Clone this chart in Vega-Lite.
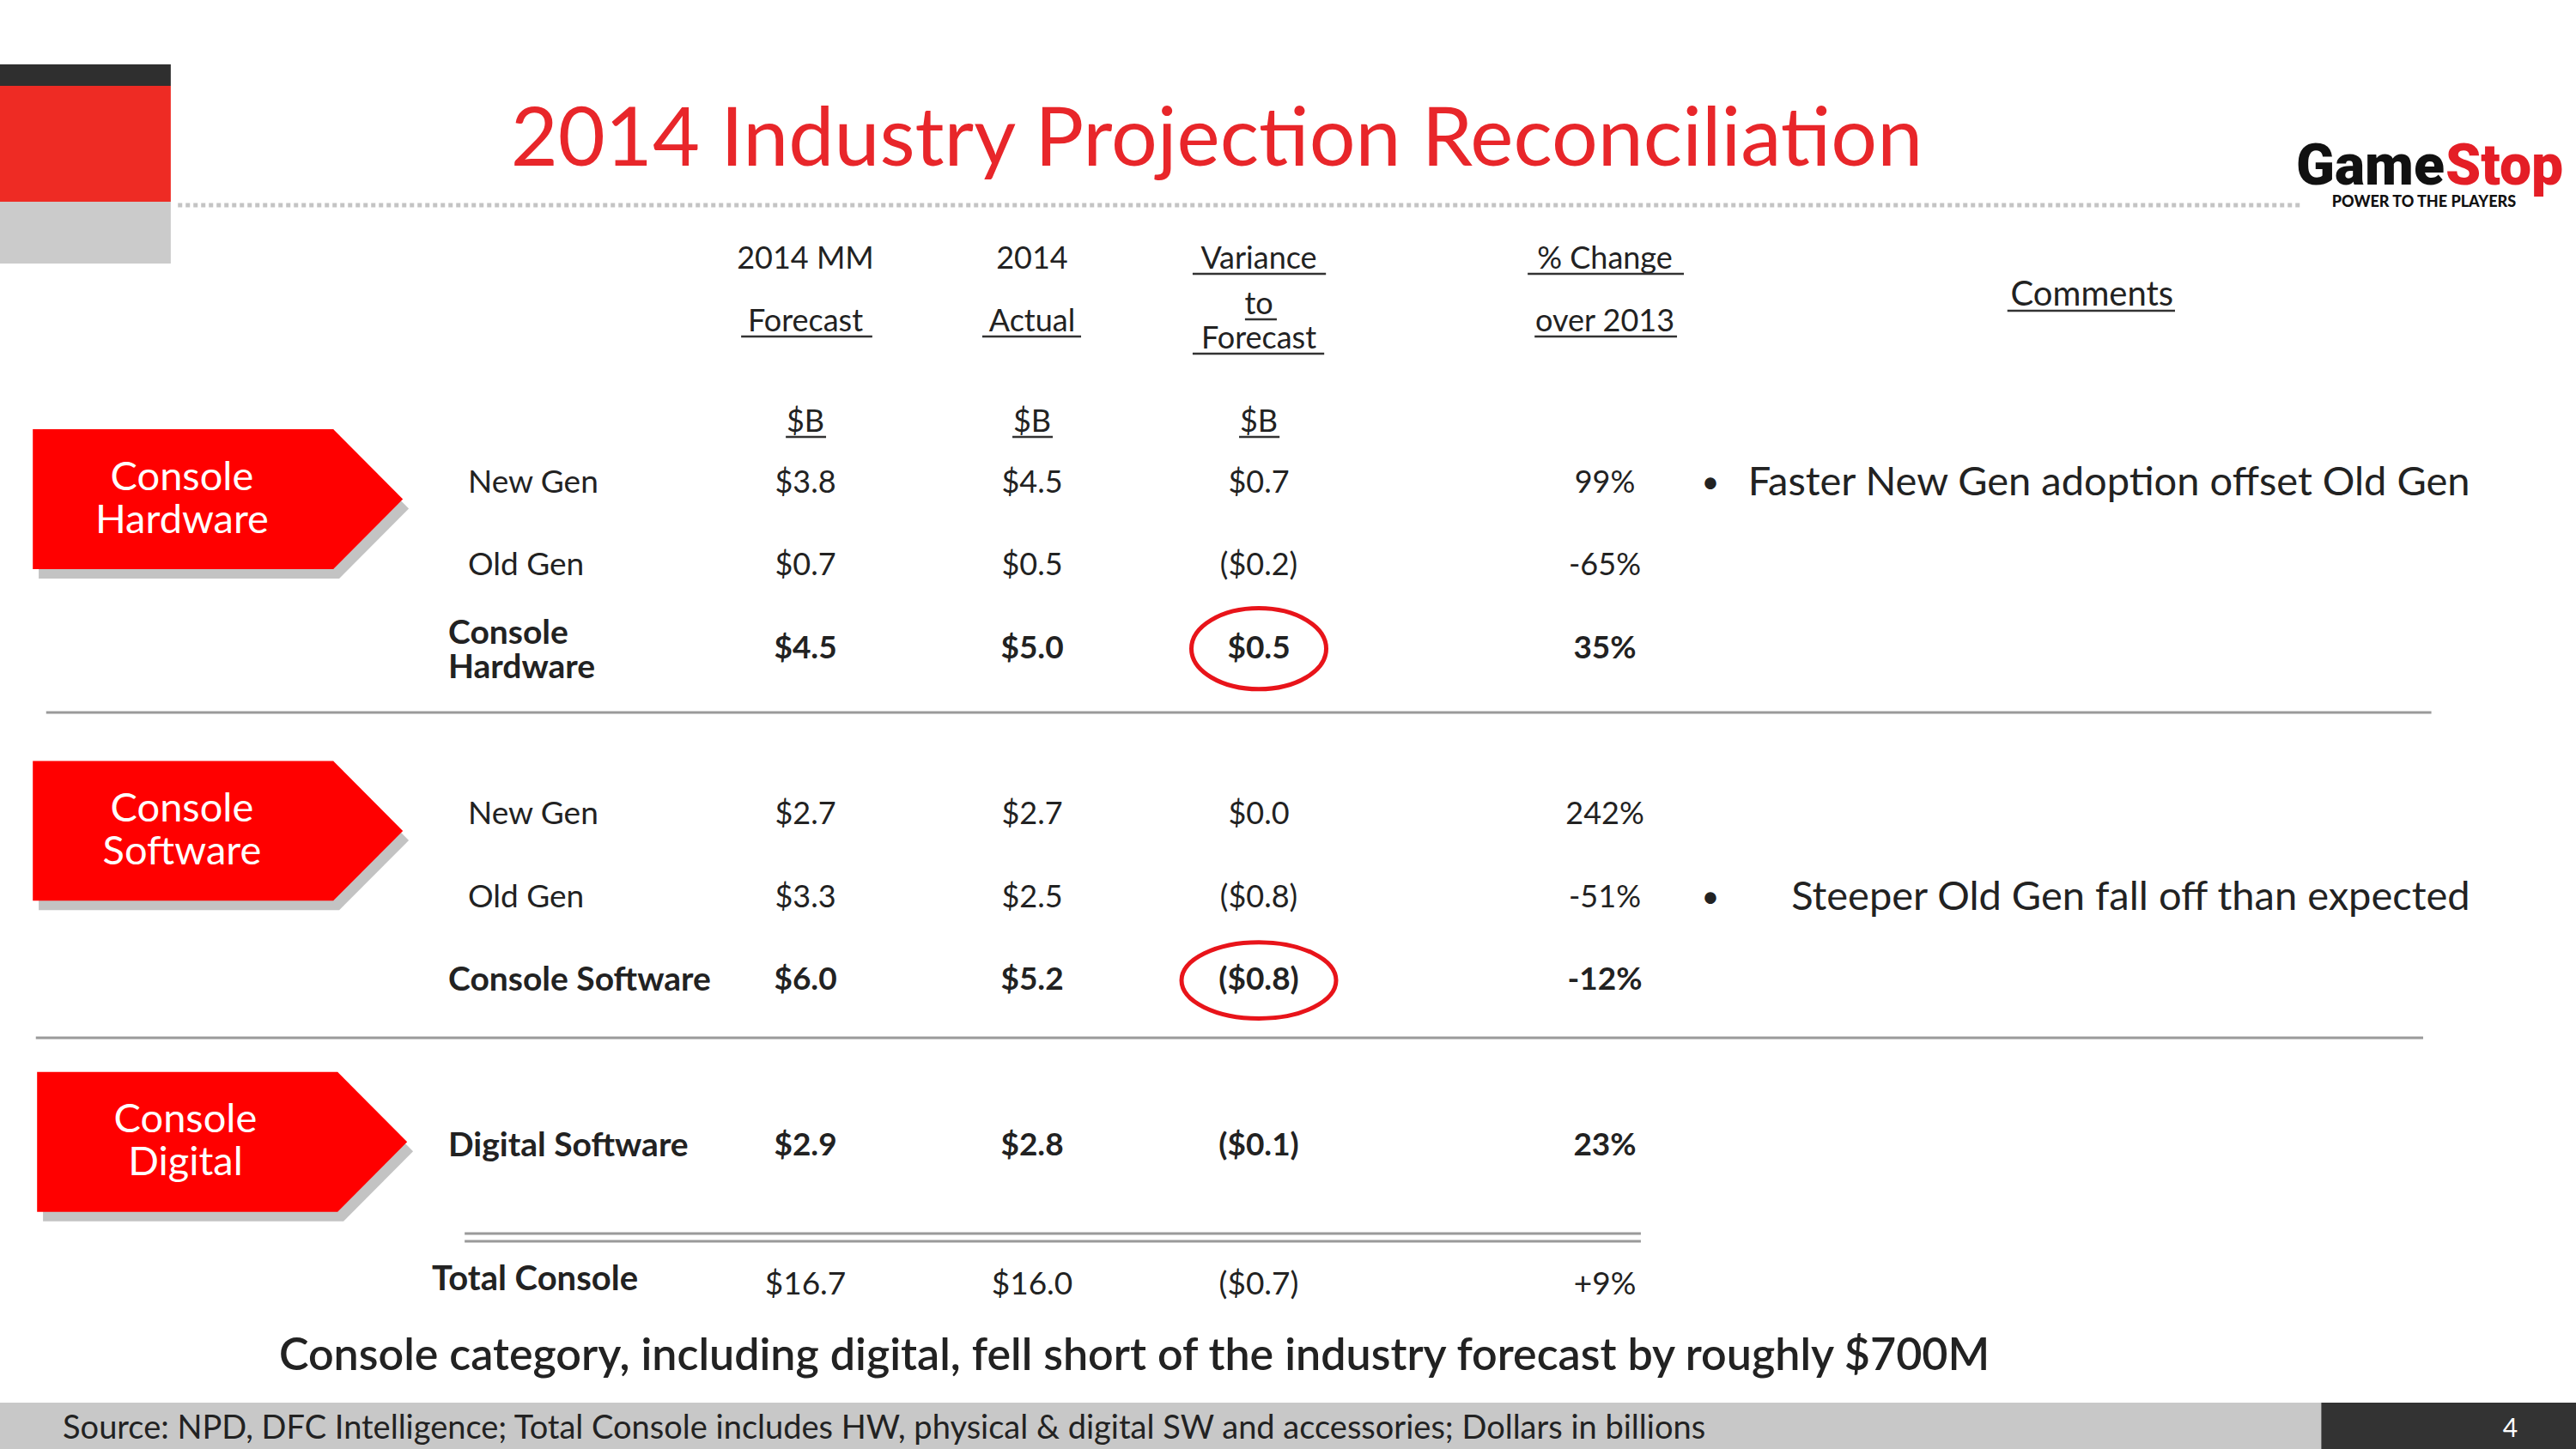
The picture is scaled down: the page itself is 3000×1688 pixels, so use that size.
{
  "$schema": "https://vega.github.io/schema/vega-lite/v6.json",
  "width": 3000,
  "height": 1688,
  "autosize": {"type": "fit", "contains": "padding"},
  "padding": 0,
  "background": "#ffffff",
  "config": {"view": {"stroke": null}, "axis": {"disable": true}, "text": {"font": "Lato", "color": "#222222"}},
  "datasets": {
    "columns": [
      {"column": "forecast", "col": 1, "top": "2014 MM", "bottom": "Forecast", "unit": "$B"},
      {"column": "actual", "col": 2, "top": "2014", "bottom": "Actual", "unit": "$B"},
      {"column": "variance", "col": 3, "top": "Variance", "bottom": "to\nForecast", "unit": "$B"},
      {"column": "change", "col": 4, "top": "% Change", "bottom": "over 2013", "unit": ""}
    ],
    "sections": [
      {"section": "Console Hardware", "text": "Console\nHardware", "row": 0},
      {"section": "Console Software", "text": "Console\nSoftware", "row": 4},
      {"section": "Console Digital", "text": "Console\nDigital", "row": 8}
    ],
    "table": [
      {"section": "Console Hardware", "row": 0, "label": "New Gen", "forecast": "$3.8", "actual": "$4.5", "variance": "$0.7", "change": "99%", "total": false, "comment": "Faster New Gen adoption offset Old Gen"},
      {"section": "Console Hardware", "row": 1, "label": "Old Gen", "forecast": "$0.7", "actual": "$0.5", "variance": "($0.2)", "change": "-65%", "total": false},
      {"section": "Console Hardware", "row": 2, "label": "Console\nHardware", "forecast": "$4.5", "actual": "$5.0", "variance": "$0.5", "change": "35%", "total": true, "highlight": true},
      {"section": "Console Software", "row": 4, "label": "New Gen", "forecast": "$2.7", "actual": "$2.7", "variance": "$0.0", "change": "242%", "total": false},
      {"section": "Console Software", "row": 5, "label": "Old Gen", "forecast": "$3.3", "actual": "$2.5", "variance": "($0.8)", "change": "-51%", "total": false, "comment": "Steeper Old Gen fall off than expected"},
      {"section": "Console Software", "row": 6, "label": "Console Software", "forecast": "$6.0", "actual": "$5.2", "variance": "($0.8)", "change": "-12%", "total": true, "highlight": true},
      {"section": "Console Digital", "row": 8, "label": "Digital Software", "forecast": "$2.9", "actual": "$2.8", "variance": "($0.1)", "change": "23%", "total": true}
    ],
    "grand": [
      {"row": 10, "label": "Total Console", "forecast": "$16.7", "actual": "$16.0", "variance": "($0.7)", "change": "+9%"}
    ]
  },
  "layer": [
    {"data": {"values": [{}]}, "mark": {"type": "rect", "color": "#2f2f2f"},
     "encoding": {"x": {"datum": -1, "type": "quantitative", "scale": {"domain": [-1,0,1,2,3,4,5,6], "range": [0,522,938,1202,1466,1869,2043,3000], "nice": false, "zero": false}}, "x2": {"datum": -0.619},
                  "y": {"datum": -5.047, "type": "quantitative", "scale": {"domain": [-5.823,8,10,12], "range": [0,1335.3,1495,1688.2], "nice": false, "zero": false}}, "y2": {"datum": -4.788}}},
    {"data": {"values": [{}]}, "mark": {"type": "rect", "color": "#ee2b24"},
     "encoding": {"x": {"datum": -1, "type": "quantitative", "scale": {"domain": [-1,0,1,2,3,4,5,6], "range": [0,522,938,1202,1466,1869,2043,3000], "nice": false, "zero": false}}, "x2": {"datum": -0.619},
                  "y": {"datum": -4.788, "type": "quantitative", "scale": {"domain": [-5.823,8,10,12], "range": [0,1335.3,1495,1688.2], "nice": false, "zero": false}}, "y2": {"datum": -3.39}}},
    {"data": {"values": [{}]}, "mark": {"type": "rect", "color": "#cbcbcb"},
     "encoding": {"x": {"datum": -1, "type": "quantitative", "scale": {"domain": [-1,0,1,2,3,4,5,6], "range": [0,522,938,1202,1466,1869,2043,3000], "nice": false, "zero": false}}, "x2": {"datum": -0.619},
                  "y": {"datum": -3.39, "type": "quantitative", "scale": {"domain": [-5.823,8,10,12], "range": [0,1335.3,1495,1688.2], "nice": false, "zero": false}}, "y2": {"datum": -2.645}}},
    {"data": {"values": [{}]}, "mark": {"type": "text", "text": "2014 Industry Projection Reconciliation", "fontSize": 95, "color": "#e8262a", "align": "center", "baseline": "alphabetic"},
     "encoding": {"x": {"datum": 2.814, "type": "quantitative", "scale": {"domain": [-1,0,1,2,3,4,5,6], "range": [0,522,938,1202,1466,1869,2043,3000], "nice": false, "zero": false}},
                  "y": {"datum": -3.825, "type": "quantitative", "scale": {"domain": [-5.823,8,10,12], "range": [0,1335.3,1495,1688.2], "nice": false, "zero": false}}}},
    {"data": {"values": [{}]}, "mark": {"type": "rule", "color": "#c4c4c4", "strokeWidth": 5, "strokeDash": [5, 4]},
     "encoding": {"x": {"datum": -0.603, "type": "quantitative", "scale": {"domain": [-1,0,1,2,3,4,5,6], "range": [0,522,938,1202,1466,1869,2043,3000], "nice": false, "zero": false}}, "x2": {"datum": 5.665},
                  "y": {"datum": -3.349, "type": "quantitative", "scale": {"domain": [-5.823,8,10,12], "range": [0,1335.3,1495,1688.2], "nice": false, "zero": false}}}},
    {"data": {"values": [{}]}, "mark": {"type": "text", "text": "Game", "font": "Roboto", "fontWeight": 900, "fontSize": 66, "color": "#111111", "align": "right", "baseline": "alphabetic"},
     "encoding": {"x": {"datum": 5.84, "type": "quantitative", "scale": {"domain": [-1,0,1,2,3,4,5,6], "range": [0,522,938,1202,1466,1869,2043,3000], "nice": false, "zero": false}},
                  "y": {"datum": -3.597, "type": "quantitative", "scale": {"domain": [-5.823,8,10,12], "range": [0,1335.3,1495,1688.2], "nice": false, "zero": false}}}},
    {"data": {"values": [{}]}, "mark": {"type": "text", "text": "Stop", "font": "Roboto", "fontWeight": 900, "fontSize": 66, "color": "#e41e26", "align": "left", "baseline": "alphabetic", "dx": 1},
     "encoding": {"x": {"datum": 5.84, "type": "quantitative", "scale": {"domain": [-1,0,1,2,3,4,5,6], "range": [0,522,938,1202,1466,1869,2043,3000], "nice": false, "zero": false}},
                  "y": {"datum": -3.597, "type": "quantitative", "scale": {"domain": [-5.823,8,10,12], "range": [0,1335.3,1495,1688.2], "nice": false, "zero": false}}}},
    {"data": {"values": [{}]}, "mark": {"type": "text", "text": "POWER TO THE PLAYERS", "font": "Lato", "fontWeight": 900, "fontSize": 18, "color": "#111111", "align": "center", "baseline": "middle"},
     "encoding": {"x": {"datum": 5.815, "type": "quantitative", "scale": {"domain": [-1,0,1,2,3,4,5,6], "range": [0,522,938,1202,1466,1869,2043,3000], "nice": false, "zero": false}},
                  "y": {"datum": -3.38, "type": "quantitative", "scale": {"domain": [-5.823,8,10,12], "range": [0,1335.3,1495,1688.2], "nice": false, "zero": false}}}},

    {"data": {"name": "columns"}, "mark": {"type": "text", "fontSize": 36, "align": "center", "baseline": "middle"},
     "encoding": {"x": {"field": "col", "type": "quantitative", "scale": {"domain": [-1,0,1,2,3,4,5,6], "range": [0,522,938,1202,1466,1869,2043,3000], "nice": false, "zero": false}},
                  "y": {"datum": -2.697, "type": "quantitative", "scale": {"domain": [-5.823,8,10,12], "range": [0,1335.3,1495,1688.2], "nice": false, "zero": false}},
                  "text": {"field": "top"}}},
    {"data": {"name": "columns"}, "transform": [{"filter": "datum.col != 3"}], "mark": {"type": "text", "fontSize": 36, "align": "center", "baseline": "middle"},
     "encoding": {"x": {"field": "col", "type": "quantitative", "scale": {"domain": [-1,0,1,2,3,4,5,6], "range": [0,522,938,1202,1466,1869,2043,3000], "nice": false, "zero": false}},
                  "y": {"datum": -1.941, "type": "quantitative", "scale": {"domain": [-5.823,8,10,12], "range": [0,1335.3,1495,1688.2], "nice": false, "zero": false}},
                  "text": {"field": "bottom"}}},
    {"data": {"name": "columns"}, "transform": [{"filter": "datum.col == 3"}], "mark": {"type": "text", "fontSize": 36, "align": "center", "baseline": "middle", "lineBreak": "\n", "lineHeight": 40, "dy": -20},
     "encoding": {"x": {"field": "col", "type": "quantitative", "scale": {"domain": [-1,0,1,2,3,4,5,6], "range": [0,522,938,1202,1466,1869,2043,3000], "nice": false, "zero": false}},
                  "y": {"datum": -1.941, "type": "quantitative", "scale": {"domain": [-5.823,8,10,12], "range": [0,1335.3,1495,1688.2], "nice": false, "zero": false}},
                  "text": {"field": "bottom"}}},
    {"data": {"name": "columns"}, "mark": {"type": "text", "fontSize": 36, "align": "center", "baseline": "middle"},
     "encoding": {"x": {"field": "col", "type": "quantitative", "scale": {"domain": [-1,0,1,2,3,4,5,6], "range": [0,522,938,1202,1466,1869,2043,3000], "nice": false, "zero": false}},
                  "y": {"datum": -0.73, "type": "quantitative", "scale": {"domain": [-5.823,8,10,12], "range": [0,1335.3,1495,1688.2], "nice": false, "zero": false}},
                  "text": {"field": "unit"}}},
    {"data": {"values": [{}]}, "mark": {"type": "text", "text": "Comments", "fontSize": 40, "align": "center", "baseline": "middle"},
     "encoding": {"x": {"datum": 5.411, "type": "quantitative", "scale": {"domain": [-1,0,1,2,3,4,5,6], "range": [0,522,938,1202,1466,1869,2043,3000], "nice": false, "zero": false}},
                  "y": {"datum": -2.262, "type": "quantitative", "scale": {"domain": [-5.823,8,10,12], "range": [0,1335.3,1495,1688.2], "nice": false, "zero": false}}}},

    {"data": {"values": [{}]}, "mark": {"type": "rule", "color": "#333333", "strokeWidth": 2.5},
     "encoding": {"x": {"datum": 0.82, "type": "quantitative", "scale": {"domain": [-1,0,1,2,3,4,5,6], "range": [0,522,938,1202,1466,1869,2043,3000], "nice": false, "zero": false}}, "x2": {"datum": 1.295},
                  "y": {"datum": -1.765, "type": "quantitative", "scale": {"domain": [-5.823,8,10,12], "range": [0,1335.3,1495,1688.2], "nice": false, "zero": false}}}},
    {"data": {"values": [{}]}, "mark": {"type": "rule", "color": "#333333", "strokeWidth": 2.5},
     "encoding": {"x": {"datum": 1.78, "type": "quantitative", "scale": {"domain": [-1,0,1,2,3,4,5,6], "range": [0,522,938,1202,1466,1869,2043,3000], "nice": false, "zero": false}}, "x2": {"datum": 2.216},
                  "y": {"datum": -1.765, "type": "quantitative", "scale": {"domain": [-5.823,8,10,12], "range": [0,1335.3,1495,1688.2], "nice": false, "zero": false}}}},
    {"data": {"values": [{}]}, "mark": {"type": "rule", "color": "#333333", "strokeWidth": 2.5},
     "encoding": {"x": {"datum": 2.708, "type": "quantitative", "scale": {"domain": [-1,0,1,2,3,4,5,6], "range": [0,522,938,1202,1466,1869,2043,3000], "nice": false, "zero": false}}, "x2": {"datum": 3.194},
                  "y": {"datum": -2.521, "type": "quantitative", "scale": {"domain": [-5.823,8,10,12], "range": [0,1335.3,1495,1688.2], "nice": false, "zero": false}}}},
    {"data": {"values": [{}]}, "mark": {"type": "rule", "color": "#333333", "strokeWidth": 2.5},
     "encoding": {"x": {"datum": 2.939, "type": "quantitative", "scale": {"domain": [-1,0,1,2,3,4,5,6], "range": [0,522,938,1202,1466,1869,2043,3000], "nice": false, "zero": false}}, "x2": {"datum": 3.052},
                  "y": {"datum": -1.972, "type": "quantitative", "scale": {"domain": [-5.823,8,10,12], "range": [0,1335.3,1495,1688.2], "nice": false, "zero": false}}}},
    {"data": {"values": [{}]}, "mark": {"type": "rule", "color": "#333333", "strokeWidth": 2.5},
     "encoding": {"x": {"datum": 2.708, "type": "quantitative", "scale": {"domain": [-1,0,1,2,3,4,5,6], "range": [0,522,938,1202,1466,1869,2043,3000], "nice": false, "zero": false}}, "x2": {"datum": 3.189},
                  "y": {"datum": -1.558, "type": "quantitative", "scale": {"domain": [-5.823,8,10,12], "range": [0,1335.3,1495,1688.2], "nice": false, "zero": false}}}},
    {"data": {"values": [{}]}, "mark": {"type": "rule", "color": "#333333", "strokeWidth": 2.5},
     "encoding": {"x": {"datum": 3.777, "type": "quantitative", "scale": {"domain": [-1,0,1,2,3,4,5,6], "range": [0,522,938,1202,1466,1869,2043,3000], "nice": false, "zero": false}}, "x2": {"datum": 4.529},
                  "y": {"datum": -2.521, "type": "quantitative", "scale": {"domain": [-5.823,8,10,12], "range": [0,1335.3,1495,1688.2], "nice": false, "zero": false}}}},
    {"data": {"values": [{}]}, "mark": {"type": "rule", "color": "#333333", "strokeWidth": 2.5},
     "encoding": {"x": {"datum": 3.797, "type": "quantitative", "scale": {"domain": [-1,0,1,2,3,4,5,6], "range": [0,522,938,1202,1466,1869,2043,3000], "nice": false, "zero": false}}, "x2": {"datum": 4.483},
                  "y": {"datum": -1.765, "type": "quantitative", "scale": {"domain": [-5.823,8,10,12], "range": [0,1335.3,1495,1688.2], "nice": false, "zero": false}}}},
    {"data": {"values": [{}]}, "mark": {"type": "rule", "color": "#333333", "strokeWidth": 2.5},
     "encoding": {"x": {"datum": 5.308, "type": "quantitative", "scale": {"domain": [-1,0,1,2,3,4,5,6], "range": [0,522,938,1202,1466,1869,2043,3000], "nice": false, "zero": false}}, "x2": {"datum": 5.512},
                  "y": {"datum": -2.076, "type": "quantitative", "scale": {"domain": [-5.823,8,10,12], "range": [0,1335.3,1495,1688.2], "nice": false, "zero": false}}}},
    {"data": {"values": [{}]}, "mark": {"type": "rule", "color": "#333333", "strokeWidth": 2.5},
     "encoding": {"x": {"datum": 0.945, "type": "quantitative", "scale": {"domain": [-1,0,1,2,3,4,5,6], "range": [0,522,938,1202,1466,1869,2043,3000], "nice": false, "zero": false}}, "x2": {"datum": 1.091},
                  "y": {"datum": -0.554, "type": "quantitative", "scale": {"domain": [-5.823,8,10,12], "range": [0,1335.3,1495,1688.2], "nice": false, "zero": false}}}},
    {"data": {"values": [{}]}, "mark": {"type": "rule", "color": "#333333", "strokeWidth": 2.5},
     "encoding": {"x": {"datum": 1.913, "type": "quantitative", "scale": {"domain": [-1,0,1,2,3,4,5,6], "range": [0,522,938,1202,1466,1869,2043,3000], "nice": false, "zero": false}}, "x2": {"datum": 2.091},
                  "y": {"datum": -0.554, "type": "quantitative", "scale": {"domain": [-5.823,8,10,12], "range": [0,1335.3,1495,1688.2], "nice": false, "zero": false}}}},
    {"data": {"values": [{}]}, "mark": {"type": "rule", "color": "#333333", "strokeWidth": 2.5},
     "encoding": {"x": {"datum": 2.913, "type": "quantitative", "scale": {"domain": [-1,0,1,2,3,4,5,6], "range": [0,522,938,1202,1466,1869,2043,3000], "nice": false, "zero": false}}, "x2": {"datum": 3.06},
                  "y": {"datum": -0.554, "type": "quantitative", "scale": {"domain": [-5.823,8,10,12], "range": [0,1335.3,1495,1688.2], "nice": false, "zero": false}}}},

    {"data": {"name": "sections"}, "transform": [{"filter": "datum.row != 8"}], "mark": {"type": "point", "shape": "M-0.968,-0.327L0.656,-0.327L1.032,0.051L0.656,0.429L-0.968,0.429Z", "size": 185761, "filled": true, "color": "#7a7a7a", "opacity": 0.45, "strokeWidth": 0, "yOffset": 19},
     "encoding": {"x": {"datum": -0.514, "type": "quantitative", "scale": {"domain": [-1,0,1,2,3,4,5,6], "range": [0,522,938,1202,1466,1869,2043,3000], "nice": false, "zero": false}},
                  "y": {"field": "row", "type": "quantitative", "scale": {"domain": [-5.823,8,10,12], "range": [0,1335.3,1495,1688.2], "nice": false, "zero": false}}}},
    {"data": {"name": "sections"}, "transform": [{"filter": "datum.row != 8"}], "mark": {"type": "point", "shape": "M-1,-0.378L0.624,-0.378L1,0L0.624,0.378L-1,0.378Z", "size": 185761, "filled": true, "color": "#ff0000", "opacity": 1, "strokeWidth": 0, "yOffset": 19},
     "encoding": {"x": {"datum": -0.514, "type": "quantitative", "scale": {"domain": [-1,0,1,2,3,4,5,6], "range": [0,522,938,1202,1466,1869,2043,3000], "nice": false, "zero": false}},
                  "y": {"field": "row", "type": "quantitative", "scale": {"domain": [-5.823,8,10,12], "range": [0,1335.3,1495,1688.2], "nice": false, "zero": false}}}},
    {"data": {"name": "sections"}, "transform": [{"filter": "datum.row != 8"}], "mark": {"type": "text", "fontSize": 47, "color": "#ffffff", "align": "center", "baseline": "middle", "lineBreak": "\n", "lineHeight": 50, "yOffset": 19, "dy": -25},
     "encoding": {"x": {"datum": -0.594, "type": "quantitative", "scale": {"domain": [-1,0,1,2,3,4,5,6], "range": [0,522,938,1202,1466,1869,2043,3000], "nice": false, "zero": false}},
                  "y": {"field": "row", "type": "quantitative", "scale": {"domain": [-5.823,8,10,12], "range": [0,1335.3,1495,1688.2], "nice": false, "zero": false}},
                  "text": {"field": "text"}}},
    {"data": {"name": "sections"}, "transform": [{"filter": "datum.row == 8"}], "mark": {"type": "point", "shape": "M-0.968,-0.327L0.656,-0.327L1.032,0.051L0.656,0.429L-0.968,0.429Z", "size": 185761, "filled": true, "color": "#7a7a7a", "opacity": 0.45, "strokeWidth": 0, "yOffset": -5, "xOffset": 5},
     "encoding": {"x": {"datum": -0.514, "type": "quantitative", "scale": {"domain": [-1,0,1,2,3,4,5,6], "range": [0,522,938,1202,1466,1869,2043,3000], "nice": false, "zero": false}},
                  "y": {"field": "row", "type": "quantitative", "scale": {"domain": [-5.823,8,10,12], "range": [0,1335.3,1495,1688.2], "nice": false, "zero": false}}}},
    {"data": {"name": "sections"}, "transform": [{"filter": "datum.row == 8"}], "mark": {"type": "point", "shape": "M-1,-0.378L0.624,-0.378L1,0L0.624,0.378L-1,0.378Z", "size": 185761, "filled": true, "color": "#ff0000", "opacity": 1, "strokeWidth": 0, "yOffset": -5, "xOffset": 5},
     "encoding": {"x": {"datum": -0.514, "type": "quantitative", "scale": {"domain": [-1,0,1,2,3,4,5,6], "range": [0,522,938,1202,1466,1869,2043,3000], "nice": false, "zero": false}},
                  "y": {"field": "row", "type": "quantitative", "scale": {"domain": [-5.823,8,10,12], "range": [0,1335.3,1495,1688.2], "nice": false, "zero": false}}}},
    {"data": {"name": "sections"}, "transform": [{"filter": "datum.row == 8"}], "mark": {"type": "text", "fontSize": 47, "color": "#ffffff", "align": "center", "baseline": "middle", "lineBreak": "\n", "lineHeight": 50, "yOffset": -5, "xOffset": 4, "dy": -25},
     "encoding": {"x": {"datum": -0.594, "type": "quantitative", "scale": {"domain": [-1,0,1,2,3,4,5,6], "range": [0,522,938,1202,1466,1869,2043,3000], "nice": false, "zero": false}},
                  "y": {"field": "row", "type": "quantitative", "scale": {"domain": [-5.823,8,10,12], "range": [0,1335.3,1495,1688.2], "nice": false, "zero": false}},
                  "text": {"field": "text"}}},

    {"data": {"name": "table"}, "transform": [{"filter": "!datum.total"}], "mark": {"type": "text", "fontSize": 37, "align": "left", "baseline": "middle", "dx": 23},
     "encoding": {"x": {"datum": 0, "type": "quantitative", "scale": {"domain": [-1,0,1,2,3,4,5,6], "range": [0,522,938,1202,1466,1869,2043,3000], "nice": false, "zero": false}},
                  "y": {"field": "row", "type": "quantitative", "scale": {"domain": [-5.823,8,10,12], "range": [0,1335.3,1495,1688.2], "nice": false, "zero": false}},
                  "text": {"field": "label"}}},
    {"data": {"name": "table"}, "transform": [{"filter": "datum.total && datum.row != 2"}], "mark": {"type": "text", "fontSize": 39, "fontWeight": "bold", "align": "left", "baseline": "middle"},
     "encoding": {"x": {"datum": 0, "type": "quantitative", "scale": {"domain": [-1,0,1,2,3,4,5,6], "range": [0,522,938,1202,1466,1869,2043,3000], "nice": false, "zero": false}},
                  "y": {"field": "row", "type": "quantitative", "scale": {"domain": [-5.823,8,10,12], "range": [0,1335.3,1495,1688.2], "nice": false, "zero": false}},
                  "text": {"field": "label"}}},
    {"data": {"name": "table"}, "transform": [{"filter": "datum.row == 2"}], "mark": {"type": "text", "fontSize": 39, "fontWeight": "bold", "align": "left", "baseline": "middle", "lineBreak": "\n", "lineHeight": 40, "dy": -18},
     "encoding": {"x": {"datum": 0, "type": "quantitative", "scale": {"domain": [-1,0,1,2,3,4,5,6], "range": [0,522,938,1202,1466,1869,2043,3000], "nice": false, "zero": false}},
                  "y": {"field": "row", "type": "quantitative", "scale": {"domain": [-5.823,8,10,12], "range": [0,1335.3,1495,1688.2], "nice": false, "zero": false}},
                  "text": {"field": "label"}}},
    {"data": {"name": "table"}, "transform": [{"filter": "!datum.total"}, {"fold": ["forecast", "actual", "variance", "change"], "as": ["column", "value"]}, {"lookup": "column", "from": {"data": {"name": "columns"}, "key": "column", "fields": ["col"]}}],
     "mark": {"type": "text", "fontSize": 36, "align": "center", "baseline": "middle"},
     "encoding": {"x": {"field": "col", "type": "quantitative", "scale": {"domain": [-1,0,1,2,3,4,5,6], "range": [0,522,938,1202,1466,1869,2043,3000], "nice": false, "zero": false}},
                  "y": {"field": "row", "type": "quantitative", "scale": {"domain": [-5.823,8,10,12], "range": [0,1335.3,1495,1688.2], "nice": false, "zero": false}},
                  "text": {"field": "value"}}},
    {"data": {"name": "table"}, "transform": [{"filter": "datum.total"}, {"fold": ["forecast", "actual", "variance", "change"], "as": ["column", "value"]}, {"lookup": "column", "from": {"data": {"name": "columns"}, "key": "column", "fields": ["col"]}}],
     "mark": {"type": "text", "fontSize": 37, "fontWeight": "bold", "align": "center", "baseline": "middle"},
     "encoding": {"x": {"field": "col", "type": "quantitative", "scale": {"domain": [-1,0,1,2,3,4,5,6], "range": [0,522,938,1202,1466,1869,2043,3000], "nice": false, "zero": false}},
                  "y": {"field": "row", "type": "quantitative", "scale": {"domain": [-5.823,8,10,12], "range": [0,1335.3,1495,1688.2], "nice": false, "zero": false}},
                  "text": {"field": "value"}}},
    {"data": {"name": "table"}, "transform": [{"filter": "datum.comment"}], "mark": {"type": "text", "text": "•", "fontSize": 36, "align": "center", "baseline": "middle"},
     "encoding": {"x": {"datum": 4.707, "type": "quantitative", "scale": {"domain": [-1,0,1,2,3,4,5,6], "range": [0,522,938,1202,1466,1869,2043,3000], "nice": false, "zero": false}},
                  "y": {"field": "row", "type": "quantitative", "scale": {"domain": [-5.823,8,10,12], "range": [0,1335.3,1495,1688.2], "nice": false, "zero": false}}}},
    {"data": {"name": "table"}, "transform": [{"filter": "datum.comment"}], "mark": {"type": "text", "fontSize": 47, "align": "right", "baseline": "middle"},
     "encoding": {"x": {"datum": 5.871, "type": "quantitative", "scale": {"domain": [-1,0,1,2,3,4,5,6], "range": [0,522,938,1202,1466,1869,2043,3000], "nice": false, "zero": false}},
                  "y": {"field": "row", "type": "quantitative", "scale": {"domain": [-5.823,8,10,12], "range": [0,1335.3,1495,1688.2], "nice": false, "zero": false}},
                  "text": {"field": "comment"}}},
    {"data": {"name": "table"}, "transform": [{"filter": "datum.highlight"}], "mark": {"type": "point", "filled": false, "color": "#e8141a", "strokeWidth": 5, "opacity": 1},
     "encoding": {"x": {"datum": 3, "type": "quantitative", "scale": {"domain": [-1,0,1,2,3,4,5,6], "range": [0,522,938,1202,1466,1869,2043,3000], "nice": false, "zero": false}},
                  "y": {"field": "row", "type": "quantitative", "scale": {"domain": [-5.823,8,10,12], "range": [0,1335.3,1495,1688.2], "nice": false, "zero": false}},
                  "shape": {"condition": {"test": "datum.row == 2", "value": "M1,0C1,0.331 0.552,0.6 0,0.6C-0.552,0.6 -1,0.331 -1,0C-1,-0.331 -0.552,-0.6 0,-0.6C0.552,-0.6 1,-0.331 1,0Z"}, "value": "M1,0C1,0.273 0.552,0.494 0,0.494C-0.552,0.494 -1,0.273 -1,0C-1,-0.273 -0.552,-0.494 0,-0.494C0.552,-0.494 1,-0.273 1,0Z"},
                  "size": {"condition": {"test": "datum.row == 2", "value": 24649}, "value": 32400}}},

    {"data": {"name": "grand"}, "mark": {"type": "text", "fontSize": 40, "fontWeight": "bold", "align": "left", "baseline": "middle", "dx": -19, "dy": -4},
     "encoding": {"x": {"datum": 0, "type": "quantitative", "scale": {"domain": [-1,0,1,2,3,4,5,6], "range": [0,522,938,1202,1466,1869,2043,3000], "nice": false, "zero": false}},
                  "y": {"field": "row", "type": "quantitative", "scale": {"domain": [-5.823,8,10,12], "range": [0,1335.3,1495,1688.2], "nice": false, "zero": false}},
                  "text": {"field": "label"}}},
    {"data": {"name": "grand"}, "transform": [{"fold": ["forecast", "actual", "variance", "change"], "as": ["column", "value"]}, {"lookup": "column", "from": {"data": {"name": "columns"}, "key": "column", "fields": ["col"]}}],
     "mark": {"type": "text", "fontSize": 37, "align": "center", "baseline": "middle", "dy": 2},
     "encoding": {"x": {"field": "col", "type": "quantitative", "scale": {"domain": [-1,0,1,2,3,4,5,6], "range": [0,522,938,1202,1466,1869,2043,3000], "nice": false, "zero": false}},
                  "y": {"field": "row", "type": "quantitative", "scale": {"domain": [-5.823,8,10,12], "range": [0,1335.3,1495,1688.2], "nice": false, "zero": false}},
                  "text": {"field": "value"}}},

    {"data": {"values": [{}]}, "mark": {"type": "rule", "color": "#9a9a9a", "strokeWidth": 3},
     "encoding": {"x": {"datum": -0.897, "type": "quantitative", "scale": {"domain": [-1,0,1,2,3,4,5,6], "range": [0,522,938,1202,1466,1869,2043,3000], "nice": false, "zero": false}}, "x2": {"datum": 5.824},
                  "y": {"datum": 2.769, "type": "quantitative", "scale": {"domain": [-5.823,8,10,12], "range": [0,1335.3,1495,1688.2], "nice": false, "zero": false}}}},
    {"data": {"values": [{}]}, "mark": {"type": "rule", "color": "#9a9a9a", "strokeWidth": 3},
     "encoding": {"x": {"datum": -0.92, "type": "quantitative", "scale": {"domain": [-1,0,1,2,3,4,5,6], "range": [0,522,938,1202,1466,1869,2043,3000], "nice": false, "zero": false}}, "x2": {"datum": 5.814},
                  "y": {"datum": 6.693, "type": "quantitative", "scale": {"domain": [-5.823,8,10,12], "range": [0,1335.3,1495,1688.2], "nice": false, "zero": false}}}},
    {"data": {"values": [{}]}, "mark": {"type": "rule", "color": "#9a9a9a", "strokeWidth": 3},
     "encoding": {"x": {"datum": 0.046, "type": "quantitative", "scale": {"domain": [-1,0,1,2,3,4,5,6], "range": [0,522,938,1202,1466,1869,2043,3000], "nice": false, "zero": false}}, "x2": {"datum": 4.241},
                  "y": {"datum": 9.274, "type": "quantitative", "scale": {"domain": [-5.823,8,10,12], "range": [0,1335.3,1495,1688.2], "nice": false, "zero": false}}}},
    {"data": {"values": [{}]}, "mark": {"type": "rule", "color": "#9a9a9a", "strokeWidth": 3},
     "encoding": {"x": {"datum": 0.046, "type": "quantitative", "scale": {"domain": [-1,0,1,2,3,4,5,6], "range": [0,522,938,1202,1466,1869,2043,3000], "nice": false, "zero": false}}, "x2": {"datum": 4.241},
                  "y": {"datum": 9.386, "type": "quantitative", "scale": {"domain": [-5.823,8,10,12], "range": [0,1335.3,1495,1688.2], "nice": false, "zero": false}}}},

    {"data": {"values": [{}]}, "mark": {"type": "text", "text": "Console category, including digital, fell short of the industry forecast by roughly $700M", "fontSize": 52, "fontWeight": 600, "align": "center", "baseline": "middle"},
     "encoding": {"x": {"datum": 2.451, "type": "quantitative", "scale": {"domain": [-1,0,1,2,3,4,5,6], "range": [0,522,938,1202,1466,1869,2043,3000], "nice": false, "zero": false}},
                  "y": {"datum": 10.88, "type": "quantitative", "scale": {"domain": [-5.823,8,10,12], "range": [0,1335.3,1495,1688.2], "nice": false, "zero": false}}}},
    {"data": {"values": [{}]}, "mark": {"type": "rect", "color": "#c8c8c8"},
     "encoding": {"x": {"datum": -1, "type": "quantitative", "scale": {"domain": [-1,0,1,2,3,4,5,6], "range": [0,522,938,1202,1466,1869,2043,3000], "nice": false, "zero": false}}, "x2": {"datum": 5.69},
                  "y": {"datum": 11.439, "type": "quantitative", "scale": {"domain": [-5.823,8,10,12], "range": [0,1335.3,1495,1688.2], "nice": false, "zero": false}}, "y2": {"datum": 12}}},
    {"data": {"values": [{}]}, "mark": {"type": "rect", "color": "#333333"},
     "encoding": {"x": {"datum": 5.69, "type": "quantitative", "scale": {"domain": [-1,0,1,2,3,4,5,6], "range": [0,522,938,1202,1466,1869,2043,3000], "nice": false, "zero": false}}, "x2": {"datum": 6},
                  "y": {"datum": 11.439, "type": "quantitative", "scale": {"domain": [-5.823,8,10,12], "range": [0,1335.3,1495,1688.2], "nice": false, "zero": false}}, "y2": {"datum": 12}}},
    {"data": {"values": [{}]}, "mark": {"type": "text", "text": "Source: NPD, DFC Intelligence; Total Console includes HW, physical & digital SW and accessories; Dollars in billions", "fontSize": 38, "align": "left", "baseline": "middle"},
     "encoding": {"x": {"datum": -0.86, "type": "quantitative", "scale": {"domain": [-1,0,1,2,3,4,5,6], "range": [0,522,938,1202,1466,1869,2043,3000], "nice": false, "zero": false}},
                  "y": {"datum": 11.76, "type": "quantitative", "scale": {"domain": [-5.823,8,10,12], "range": [0,1335.3,1495,1688.2], "nice": false, "zero": false}}}},
    {"data": {"values": [{}]}, "mark": {"type": "text", "text": "4", "fontSize": 30, "color": "#ffffff", "align": "center", "baseline": "middle"},
     "encoding": {"x": {"datum": 5.92, "type": "quantitative", "scale": {"domain": [-1,0,1,2,3,4,5,6], "range": [0,522,938,1202,1466,1869,2043,3000], "nice": false, "zero": false}},
                  "y": {"datum": 11.76, "type": "quantitative", "scale": {"domain": [-5.823,8,10,12], "range": [0,1335.3,1495,1688.2], "nice": false, "zero": false}}}}
  ]
}
